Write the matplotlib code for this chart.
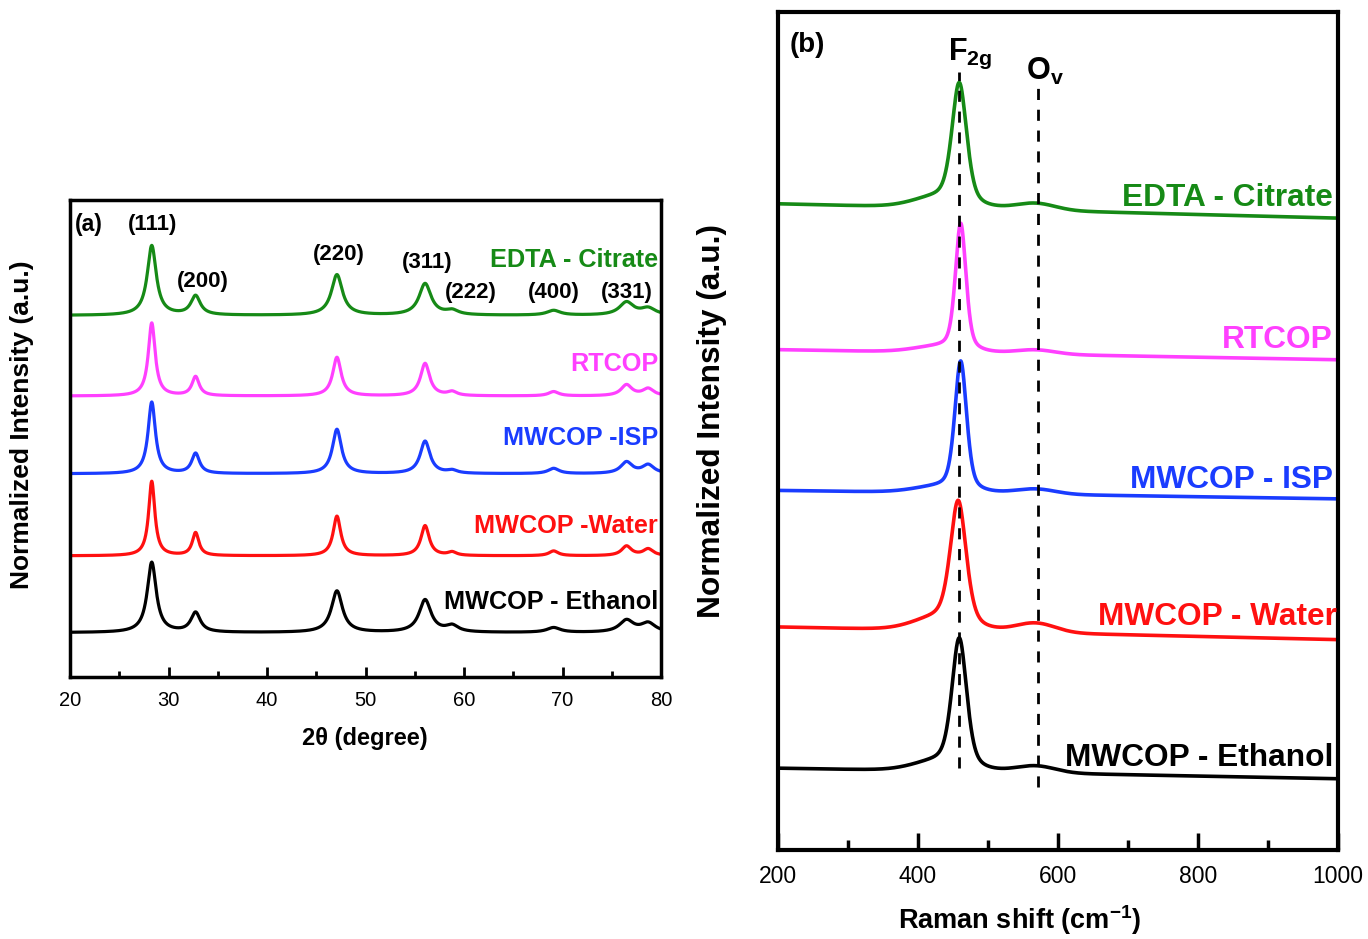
import numpy as np
import matplotlib
matplotlib.use('Agg')
import matplotlib.pyplot as plt
from matplotlib.ticker import MultipleLocator

plt.rcParams['font.family'] = ['Liberation Sans', 'DejaVu Sans']
plt.rcParams['mathtext.fontset'] = 'custom'
plt.rcParams['mathtext.rm'] = 'Liberation Sans'
plt.rcParams['mathtext.bf'] = 'Liberation Sans:bold'

######################################## DATOS ########################################
samples = ['EDTA - Citrate', 'RTCOP', 'MWCOP -ISP', 'MWCOP -Water', 'MWCOP - Ethanol']
raman_names = ['EDTA - Citrate', 'RTCOP', 'MWCOP - ISP', 'MWCOP - Water', 'MWCOP - Ethanol']
colors = ['#168a16', '#ff40ff', '#1a3cff', '#ff1010', '#000000']

# (a) XRD: reflections
hkl = ['(111)', '(200)', '(220)', '(311)', '(222)', '(400)', '(331)', '']
xrd_pos = [28.3, 32.75, 47.1, 56.05, 58.8, 69.1, 76.5, 78.7]
xrd_base = [75.8, 58.9, 42.6, 25.4, 9.3]
xrd_h = [
    [14.6, 4.0, 8.5, 6.6, 0.9, 1.0, 2.7, 1.4],
    [15.3, 4.0, 8.1, 6.8, 0.8, 0.9, 2.3, 1.5],
    [15.0, 4.2, 9.3, 6.8, 0.6, 1.1, 2.4, 1.8],
    [15.6, 4.8, 8.3, 6.3, 0.7, 1.0, 2.0, 1.4],
    [14.7, 4.1, 8.7, 6.8, 1.3, 1.0, 2.5, 1.9],
]
xrd_w = [0.55, 0.42, 0.45, 0.38, 0.55]   # HWHM of (111), degrees

# (b) Raman: F2g band, left shoulder and O_v band
raman_left = [77.1, 59.7, 42.9, 26.6, 9.75]
raman_right = [75.4, 58.5, 41.9, 25.1, 8.5]
f2g_pos = [459, 461, 461, 457.5, 459]
f2g_h = [14.3, 15.1, 15.4, 14.7, 15.3]
f2g_w = [12.5, 9.0, 10.0, 13.5, 12.5]
shoulder_h = [1.1, 0.6, 0.6, 1.3, 1.0]
ov_h = [0.8, 0.5, 0.6, 1.1, 0.8]

################################# FUNCIONES ##########################################
def lor(x, x0, w):
    return 1.0 / (1.0 + ((x - x0) / w) ** 2)

def gau(x, x0, s):
    return np.exp(-0.5 * ((x - x0) / s) ** 2)

def pvoigt(x, x0, w, eta=0.45):
    return eta * lor(x, x0, w) + (1 - eta) * gau(x, x0, w / 1.1774)

################################# GRÁFICAS ###########################################
fig = plt.figure(figsize=(13.68, 9.39), dpi=100)
ax1 = fig.add_axes([70 / 1368, 1 - 677 / 939, 591 / 1368, 477 / 939])
ax2 = fig.add_axes([778 / 1368, 1 - 850 / 939, 560 / 1368, 838 / 939])

tt = np.linspace(20, 80, 3000)
for i in range(5):
    y = np.full_like(tt, xrd_base[i])
    for j in range(len(xrd_pos)):
        w = xrd_w[i] * (1 + 0.012 * (xrd_pos[j] - 28))
        y = y + xrd_h[i][j] * lor(tt, xrd_pos[j], w)
    ax1.plot(tt, y, color=colors[i], lw=2.3)

ax1.set_xlim(20, 80)
ax1.set_ylim(0, 100)
ax1.xaxis.set_major_locator(MultipleLocator(10))
ax1.xaxis.set_minor_locator(MultipleLocator(5))
ax1.set_yticks([])
ax1.tick_params(axis='x', which='major', direction='in', length=7, width=2, labelsize=14.5, pad=10)
ax1.tick_params(axis='x', which='minor', direction='in', length=4, width=2)
for s in ax1.spines.values():
    s.set_linewidth(2.5)

ax1.text(20.5, 94.8, '(a)', fontsize=16.5, fontweight='bold', ha='left', va='center')
hkl_xy = [(28.4, 94.8), (33.5, 83.0), (47.3, 88.5), (56.3, 87.0), (60.7, 80.7), (69.1, 80.7), (76.5, 80.7)]
for k in range(7):
    ax1.text(hkl_xy[k][0], hkl_xy[k][1], hkl[k], fontsize=16, fontweight='bold', ha='center', va='center')
xrd_lab_y = [87.4, 65.6, 50.1, 31.7, 15.7]
for i in range(5):
    ax1.text(79.7, xrd_lab_y[i], samples[i], color=colors[i], fontsize=18.2, fontweight='bold',
             ha='right', va='center')
ax1.text(-0.081, 0.528, 'Normalized Intensity (a.u.)', transform=ax1.transAxes, rotation=90,
         fontsize=19, fontweight='bold', ha='center', va='center')
ax1.text(0.499, -0.128, '2θ (degree)', transform=ax1.transAxes,
         fontsize=17, fontweight='bold', ha='center', va='center')

wn = np.linspace(200, 1000, 3000)
for i in range(5):
    y = raman_left[i] + (raman_right[i] - raman_left[i]) * (wn - 200) / 800
    y = y + f2g_h[i] * pvoigt(wn, f2g_pos[i], f2g_w[i])
    y = y + shoulder_h[i] * gau(wn, 428, 35)
    y = y + ov_h[i] * gau(wn, 568, 28)
    ax2.plot(wn, y, color=colors[i], lw=2.6)

ax2.plot([459, 459], [9.8, 92.8], '--', color='black', lw=2, dashes=(4, 3.5))
ax2.plot([571, 571], [7.5, 90.9], '--', color='black', lw=2, dashes=(4, 3.5))

ax2.set_xlim(200, 1000)
ax2.set_ylim(0, 100)
ax2.xaxis.set_major_locator(MultipleLocator(200))
ax2.xaxis.set_minor_locator(MultipleLocator(100))
ax2.set_yticks([])
ax2.tick_params(axis='x', which='major', direction='in', length=12, width=2.5, labelsize=16.5, pad=11)
ax2.tick_params(axis='x', which='minor', direction='in', length=7, width=2.5)
for s in ax2.spines.values():
    s.set_linewidth(3)

ax2.text(217, 96.1, '(b)', fontsize=20, fontweight='bold', ha='left', va='center')
ax2.text(443, 94.3, r'$\mathbf{F_{2g}}$', fontsize=22, ha='left', va='baseline')
ax2.text(555, 91.9, r'$\mathbf{O_{v}}$', fontsize=22, ha='left', va='baseline')
raman_lab_y = [77.8, 60.9, 44.2, 27.8, 11.0]
raman_lab_x = [993, 993, 993, 999, 994]
for i in range(5):
    ax2.text(raman_lab_x[i], raman_lab_y[i], raman_names[i], color=colors[i], fontsize=22.8,
             fontweight='bold', ha='right', va='center')
ax2.text(-0.118, 0.512, 'Normalized Intensity (a.u.)', transform=ax2.transAxes, rotation=90,
         fontsize=22.8, fontweight='bold', ha='center', va='center')
ax2.text(0.432, -0.0835, r'Raman shift (cm$^{\mathbf{-1}}$)', transform=ax2.transAxes,
         fontsize=19.5, fontweight='bold', ha='center', va='center')

fig.savefig('out.png', dpi=100)
